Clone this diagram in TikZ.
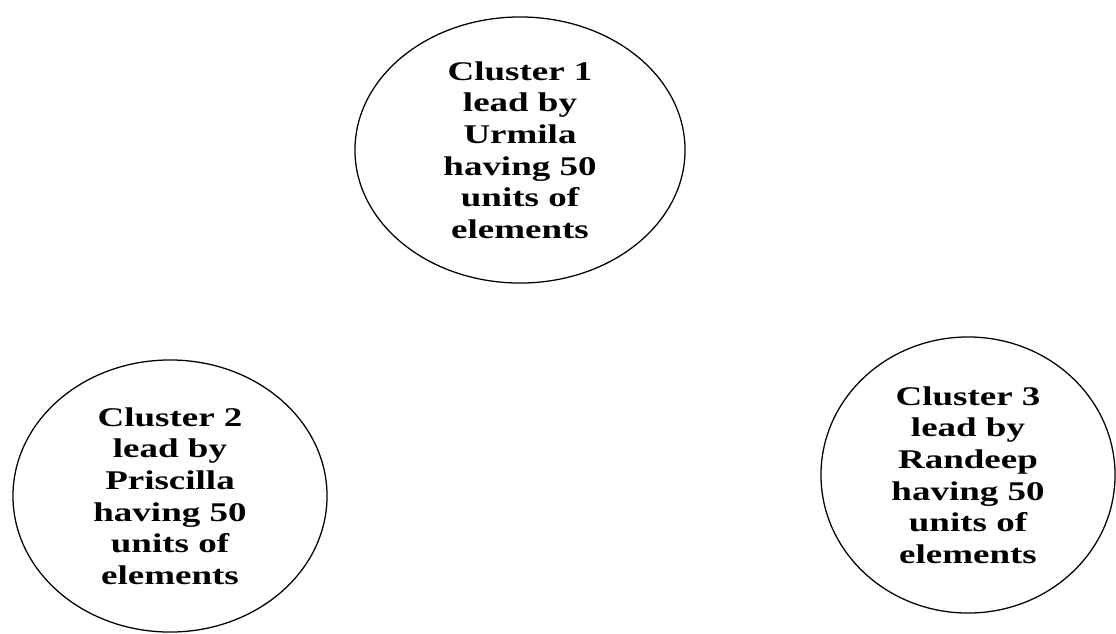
\documentclass[tikz,border=0pt]{standalone}
\usepackage{fontspec}
\setmainfont{Liberation Serif}[FakeStretch=1.37]
\usetikzlibrary{shapes.geometric}

\begin{document}
\begin{tikzpicture}[
    x=0.025cm, y=-0.025cm,
    cluster/.style={ellipse, draw=black, line width=0.9pt, inner sep=0pt,
                    align=center, font=\fontsize{19.2}{22.5}\selectfont\bfseries},
  ]
    \useasboundingbox (0,0) rectangle (1116,633);

    \node[cluster, minimum width=8.25cm, minimum height=6.65cm] (c1) at (520,150)
      {Cluster 1\\lead by\\Urmila\\having 50\\units of\\elements};
    \node[cluster, minimum width=7.85cm, minimum height=6.8cm] (c2) at (170,496)
      {Cluster 2\\lead by\\Priscilla\\having 50\\units of\\elements};
    \node[cluster, minimum width=7.35cm, minimum height=6.9cm] (c3) at (968,475)
      {Cluster 3\\lead by\\Randeep\\having 50\\units of\\elements};
  \end{tikzpicture}
\end{document}
